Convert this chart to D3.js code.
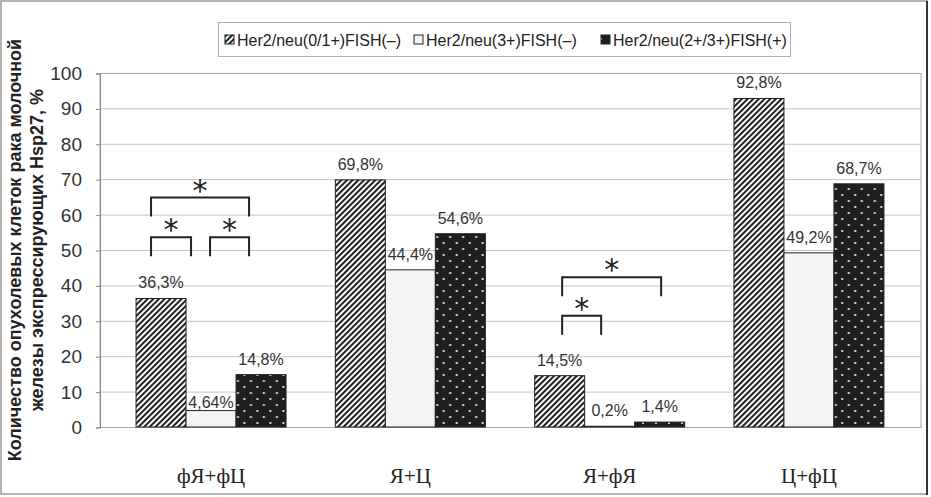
<!DOCTYPE html>
<html>
<head>
<meta charset="utf-8">
<script src="https://cdn.jsdelivr.net/npm/d3@7"></script>
<style>
  body { margin: 0; background: #fff; }
  svg { display: block; }
</style>
</head>
<body>
<svg id="chart" width="931" height="497"></svg>
<script>
const categories = ['фЯ+фЦ', 'Я+Ц', 'Я+фЯ', 'Ц+фЦ'];
const seriesNames = ['Her2/neu(0/1+)FISH(–)', 'Her2/neu(3+)FISH(–)', 'Her2/neu(2+/3+)FISH(+)'];
const her2Low = [36.3, 69.8, 14.5, 92.8];
const her2High = [4.64, 44.4, 0.2, 49.2];
const her2Fish = [14.8, 54.6, 1.4, 68.7];
const valueLabels = [
  ['36,3%', '69,8%', '14,5%', '92,8%'],
  ['4,64%', '44,4%', '0,2%', '49,2%'],
  ['14,8%', '54,6%', '1,4%', '68,7%']
];
const yTicks = [0, 10, 20, 30, 40, 50, 60, 70, 80, 90, 100];
// significance brackets: category, series span (fractional), level in %
const brackets = [
  { cat: 'фЯ+фЦ', from: -0.2, to: 1.76, level: 64.8 },
  { cat: 'фЯ+фЦ', from: -0.2, to: 0.6, level: 53.6 },
  { cat: 'фЯ+фЦ', from: 0.98, to: 1.76, level: 53.6 },
  { cat: 'Я+фЯ', from: 0.05, to: 2.03, level: 42.3 },
  { cat: 'Я+фЯ', from: 0.05, to: 0.83, level: 31.4 }
];

const series = [her2Low, her2High, her2Fish];
const fills = ['url(#hatch)', '#f3f3f3', 'url(#dots)'];

const svg = d3.select('#chart');
const plot = { left: 100, right: 921, top: 73, bottom: 427 };

const defs = svg.append('defs');
const hatch = defs.append('pattern').attr('id', 'hatch')
  .attr('patternUnits', 'userSpaceOnUse').attr('width', 4).attr('height', 4)
  .attr('patternTransform', 'rotate(45)');
hatch.append('rect').attr('width', 4).attr('height', 4).attr('fill', '#fff');
hatch.append('line').attr('x1', 1).attr('y1', 0).attr('x2', 1).attr('y2', 4)
  .attr('stroke', '#222').attr('stroke-width', 2.1);

const dots = defs.append('pattern').attr('id', 'dots')
  .attr('patternUnits', 'userSpaceOnUse').attr('width', 13).attr('height', 12);
dots.append('rect').attr('width', 13).attr('height', 12).attr('fill', '#1e1e1e');
dots.append('circle').attr('cx', 3).attr('cy', 3).attr('r', 1.1).attr('fill', '#fff');
dots.append('circle').attr('cx', 9.5).attr('cy', 9).attr('r', 1.1).attr('fill', '#fff');

const y = d3.scaleLinear().domain([0, 100]).range([plot.bottom, plot.top]);
const x0 = d3.scaleBand().domain(categories).range([111.4, 908.6]);
const innerW = 150;
const x1 = d3.scaleBand().domain(d3.range(series.length))
  .range([(x0.bandwidth() - innerW) / 2, (x0.bandwidth() + innerW) / 2]);
const sPos = d3.scaleLinear().domain([0, 1]).range([x1(0) + x1.bandwidth() / 2, x1(1) + x1.bandwidth() / 2]);

// frame
svg.append('rect').attr('x', 1).attr('y', 1).attr('width', 926).attr('height', 493)
  .attr('fill', 'none').attr('stroke', '#9a9a9a').attr('stroke-width', 1.5);
svg.append('line').attr('x1', 927).attr('x2', 927).attr('y1', 1).attr('y2', 495)
  .attr('stroke', '#333').attr('stroke-width', 2);

// grid
svg.append('g').selectAll('line').data(yTicks.filter(d => d > 0 && d < 100)).join('line')
  .attr('x1', plot.left).attr('x2', plot.right)
  .attr('y1', d => y(d) + 0.5).attr('y2', d => y(d) + 0.5)
  .attr('stroke', '#c4c4c4').attr('stroke-width', 1);
svg.append('rect').attr('x', plot.left).attr('y', plot.top + 0.5)
  .attr('width', plot.right - plot.left).attr('height', plot.bottom - plot.top)
  .attr('fill', 'none').attr('stroke', '#a8a8a8').attr('stroke-width', 1);

// y axis
const yAxis = svg.append('g').attr('transform', `translate(${plot.left},0.5)`)
  .call(d3.axisLeft(y).tickValues(yTicks).tickSize(4).tickPadding(14));
yAxis.select('.domain').attr('stroke', '#888');
yAxis.selectAll('.tick line').attr('stroke', '#888');
yAxis.selectAll('text').attr('font-family', 'Liberation Sans, Arial, sans-serif')
  .attr('font-size', 19).attr('fill', '#333');

// bars
const groups = svg.append('g').selectAll('g').data(categories).join('g')
  .attr('transform', c => `translate(${x0(c)},0)`);
groups.selectAll('rect').data((c, ci) => series.map((s, si) => ({ si, ci, v: s[ci] }))).join('rect')
  .attr('x', d => x1(d.si)).attr('width', x1.bandwidth())
  .attr('y', d => y(d.v)).attr('height', d => y(0) - y(d.v))
  .attr('fill', d => fills[d.si]).attr('stroke', '#222').attr('stroke-width', 1);

groups.selectAll('text.val').data((c, ci) => series.map((s, si) => ({ si, ci, v: s[ci] }))).join('text')
  .attr('class', 'val')
  .attr('x', d => x1(d.si) + x1.bandwidth() / 2)
  .attr('y', d => y(d.v) - (d.v < 6 && d.v > 2 ? 3 : 10))
  .attr('text-anchor', 'middle')
  .attr('font-family', 'Liberation Sans, Arial, sans-serif').attr('font-size', 16)
  .attr('fill', '#333')
  .text(d => valueLabels[d.si][d.ci]);

// category labels
svg.append('g').selectAll('text').data(categories).join('text')
  .attr('x', c => x0(c) + x0.bandwidth() / 2).attr('y', 483)
  .attr('text-anchor', 'middle')
  .attr('font-family', 'Liberation Serif, Times New Roman, serif').attr('font-size', 21)
  .attr('fill', '#222')
  .text(c => c);

// significance brackets
const br = svg.append('g');
brackets.forEach(b => {
  const xa = x0(b.cat) + sPos(b.from), xb = x0(b.cat) + sPos(b.to), yt = y(b.level);
  br.append('path')
    .attr('d', `M${xa},${yt + 19}V${yt}H${xb}V${yt + 19}`)
    .attr('fill', 'none').attr('stroke', '#222').attr('stroke-width', 2);
  br.append('text')
    .attr('x', (xa + xb) / 2).attr('y', yt - 16 + 19)
    .attr('text-anchor', 'middle')
    .attr('font-family', 'DejaVu Sans, sans-serif').attr('font-size', 30)
    .attr('fill', '#222')
    .text('*');
});

// legend
const lg = svg.append('g');
lg.append('rect').attr('x', 218.5).attr('y', 22.5).attr('width', 572).attr('height', 34)
  .attr('fill', '#fff').attr('stroke', '#b0b0b0');
const legendX = [225, 414, 601];
seriesNames.forEach((n, i) => {
  lg.append('rect').attr('x', legendX[i]).attr('y', 35).attr('width', 9).attr('height', 9)
    .attr('fill', fills[i]).attr('stroke', '#222').attr('stroke-width', 1);
  lg.append('text').attr('x', legendX[i] + 12).attr('y', 45.5)
    .attr('font-family', 'Liberation Sans, Arial, sans-serif').attr('font-size', 16)
    .attr('fill', '#222').text(n);
});

// y title
const yt = svg.append('g').attr('transform', 'translate(0,250) rotate(-90)');
yt.append('text').attr('x', 0).attr('y', 21).attr('text-anchor', 'middle')
  .attr('font-family', 'Liberation Sans, Arial, sans-serif').attr('font-size', 18)
  .attr('font-weight', 'bold').attr('fill', '#222')
  .text('Количество опухолевых клеток рака молочной');
yt.append('text').attr('x', 0).attr('y', 43).attr('text-anchor', 'middle')
  .attr('font-family', 'Liberation Sans, Arial, sans-serif').attr('font-size', 18)
  .attr('font-weight', 'bold').attr('fill', '#222')
  .text('железы экспрессирующих Hsp27, %');
</script>
</body>
</html>
